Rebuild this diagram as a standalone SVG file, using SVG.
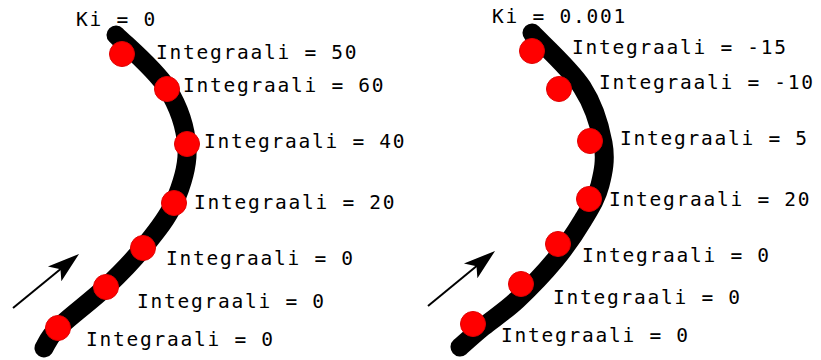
<svg xmlns="http://www.w3.org/2000/svg" width="821" height="360" viewBox="0 0 821 360">
<style>
.track{fill:none;stroke:#000;stroke-width:19;stroke-linecap:round;stroke-linejoin:round}
.dot{fill:#ff0000;stroke:#e00000;stroke-width:1}
.lbl{font-family:"DejaVu Sans Mono","Liberation Mono",monospace;font-size:19.5px;letter-spacing:1.75px;fill:#000}
.dir{fill:none;stroke:#000;stroke-width:2}
</style>
<defs>
<marker id="ah" markerUnits="userSpaceOnUse" markerWidth="37" markerHeight="26" viewBox="-25 -13 37 26" refX="0" refY="0" orient="auto">
<path d="M10,0 L-22,-10 L-14,0 L-21,10 Z" fill="#000"/>
</marker>
</defs>
<rect width="821" height="360" fill="#fff"/>
<g id="panel-left">
<path class="track" d="M116,35 C124.5,43.8 155.2,69.2 167,88 C178.8,106.8 185.8,128.8 187,148 C188.2,167.2 181.3,186.3 174,203 C166.7,219.7 154.3,234 143,248 C131.7,262 120.2,273.7 106,287 C91.8,300.3 68.3,317.8 58,328 C47.7,338.2 46.3,344.7 44,348"/>
<line class="dir" x1="13" y1="308" x2="71.3" y2="260.3" marker-end="url(#ah)"/>
<circle class="dot" cx="122" cy="54" r="12.5"/>
<circle class="dot" cx="167" cy="89" r="12.5"/>
<circle class="dot" cx="187" cy="144" r="12.5"/>
<circle class="dot" cx="174" cy="203" r="12.5"/>
<circle class="dot" cx="143" cy="248" r="12.5"/>
<circle class="dot" cx="106" cy="287" r="12.5"/>
<circle class="dot" cx="58" cy="328" r="12.5"/>
<text class="lbl" x="76" y="25.5">Ki = 0</text>
<text class="lbl" x="156" y="59">Integraali = 50</text>
<text class="lbl" x="183" y="91.5">Integraali = 60</text>
<text class="lbl" x="204" y="147.5">Integraali = 40</text>
<text class="lbl" x="194" y="209">Integraali = 20</text>
<text class="lbl" x="166" y="265">Integraali = 0</text>
<text class="lbl" x="137" y="308">Integraali = 0</text>
<text class="lbl" x="86" y="345.5">Integraali = 0</text>
</g>
<g id="panel-right">
<path class="track" d="M532,33 C540.3,42 570.2,68.7 582,87 C593.8,105.3 600,126.7 603,143 C606,159.3 603.3,172.2 600,185 C596.7,197.8 590.5,207.5 583,220 C575.5,232.5 566,246.7 555,260 C544,273.3 529,288.8 517,300 C505,311.2 492.5,319.2 483,327 C473.5,334.8 463.8,343.7 460,347"/>
<line class="dir" x1="428" y1="306" x2="487.3" y2="257.3" marker-end="url(#ah)"/>
<circle class="dot" cx="532" cy="51" r="12.5"/>
<circle class="dot" cx="559" cy="89" r="12.5"/>
<circle class="dot" cx="590" cy="141" r="12.5"/>
<circle class="dot" cx="589" cy="199" r="12.5"/>
<circle class="dot" cx="558" cy="244" r="12.5"/>
<circle class="dot" cx="521" cy="284" r="12.5"/>
<circle class="dot" cx="473" cy="324" r="12.5"/>
<text class="lbl" x="492" y="22.5">Ki = 0.001</text>
<text class="lbl" x="572" y="54">Integraali = -15</text>
<text class="lbl" x="599" y="89">Integraali = -10</text>
<text class="lbl" x="620" y="145">Integraali = 5</text>
<text class="lbl" x="609" y="206">Integraali = 20</text>
<text class="lbl" x="582" y="261.5">Integraali = 0</text>
<text class="lbl" x="553" y="304">Integraali = 0</text>
<text class="lbl" x="501" y="341.5">Integraali = 0</text>
</g>
</svg>
